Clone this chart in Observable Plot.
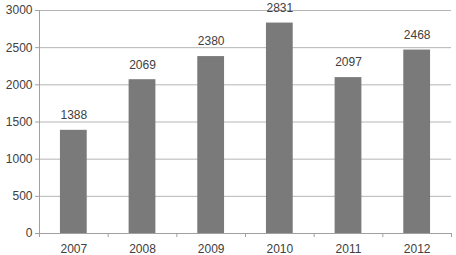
<!DOCTYPE html>
<html><head><meta charset="utf-8">
<script src="https://cdn.jsdelivr.net/npm/d3@7"></script>
<script src="https://cdn.jsdelivr.net/npm/@observablehq/plot@0.6"></script>
<style>body{margin:0;background:#fff}</style>
</head><body><div id="chart"></div>
<script>
const years = ["2007","2008","2009","2010","2011","2012"];
const values = [1388, 2069, 2380, 2831, 2097, 2468];
const yTicks = [0, 500, 1000, 1500, 2000, 2500, 3000];

const data = years.map((year, i) => ({year, value: values[i], i}));
const font = "Liberation Sans, Arial, sans-serif";

const chart = Plot.plot({
  width: 456, height: 255,
  marginLeft: 39, marginRight: 5, marginTop: 10, marginBottom: 22,
  style: {fontFamily: font, fontSize: "12px", color: "#404040", background: "#fff"},
  x: {type: "linear", domain: [0, years.length], axis: null},
  y: {domain: [0, 3000], axis: null},
  marks: [
    Plot.gridY(yTicks, {stroke: "#b5b5b5", strokeOpacity: 1}),
    Plot.rectY(data, {x1: d => d.i + 0.305, x2: d => d.i + 0.695, y: "value", fill: "#7a7a7a"}),
    Plot.axisY(yTicks, {tickSize: 4, stroke: "#a0a0a0", tickPadding: 3, fill: "#404040", label: null, tickFormat: d => String(d)}),
    Plot.ruleX([0], {stroke: "#a0a0a0"}),
    Plot.ruleY([0], {stroke: "#a0a0a0"}),
    Plot.axisX(d3.range(years.length + 1), {tickSize: 4, stroke: "#a0a0a0", label: null, tickFormat: () => ""}),
    Plot.axisX(data.map(d => d.i + 0.5), {tickSize: 0, tickPadding: 11, fill: "#404040", label: null, tickFormat: (t) => years[Math.floor(t)]}),
    Plot.text(data, {x: d => d.i + 0.5, y: "value", text: d => String(d.value), dy: -15, fill: "#404040", fontSize: 12})
  ]
});
document.getElementById("chart").append(chart);
</script></body></html>
